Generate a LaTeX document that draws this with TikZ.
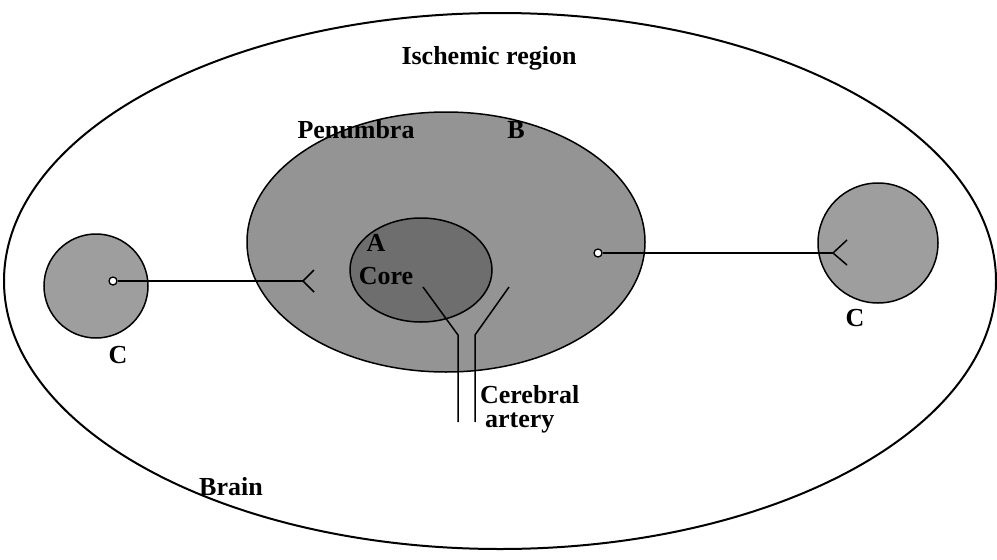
\documentclass[tikz,border=0pt]{standalone}
\usepackage{fontspec}
\setmainfont{Liberation Serif}
\begin{document}
\begin{tikzpicture}[x=1pt,y=-1pt,line width=1.5pt,
    lbl/.style={font=\fontsize{26}{30}\selectfont\bfseries},
    hole/.style={circle,draw,fill=white,inner sep=0pt,minimum size=8pt,line width=1.3pt}]
    \useasboundingbox (0,0) rectangle (997,560);
    % brain outline
    \draw[line width=2pt,fill=white] (500,281) ellipse [x radius=496, y radius=268];
    \node[lbl] (brain) at (231,487) {Brain};
    \node[lbl] (isch) at (489,58) {Ischemic region};

    % penumbra and core
    \draw[fill=black!42] (446,242) ellipse [x radius=199, y radius=130];
    \node[lbl] (penumbra) at (356,130) {Penumbra};
    \node[lbl] (b) at (516,130) {B};
    \draw[fill=black!57] (421,270) ellipse [x radius=71, y radius=52];
    \node[lbl] (a) at (376,243) {A};
    \node[lbl] (core) at (386,276) {Core};

    % collaterals
    \draw[fill=black!38] (96,286) circle [radius=52];
    \node[lbl] (cleft) at (118,355) {C};
    \draw[fill=black!38] (878,243) circle [radius=60];
    \node[lbl] (cright) at (855,318) {C};

    \node[hole] (dotl) at (113,281) {};
    \coordinate (vl) at (303,281);
    \draw (dotl) -- (vl);
    \draw (314,270) -- (vl) -- (314,292);

    \node[hole] (dotr) at (598,253) {};
    \coordinate (vr) at (833,253);
    \draw (dotr) -- (vr);
    \draw (847,240) -- (vr) -- (847,265);

    % cerebral artery
    \coordinate (al1) at (423,287);
    \coordinate (al2) at (458,335);
    \coordinate (al3) at (458,422);
    \coordinate (ar1) at (509,287);
    \coordinate (ar2) at (475,335);
    \coordinate (ar3) at (475,422);
    \draw (al1) -- (al2) -- (al3);
    \draw (ar1) -- (ar2) -- (ar3);
    \node[lbl,anchor=west] (cereb) at (476,395) {Cerebral};
    \node[lbl,anchor=west] (artery) at (481,423) {artery};
\end{tikzpicture}
\end{document}
